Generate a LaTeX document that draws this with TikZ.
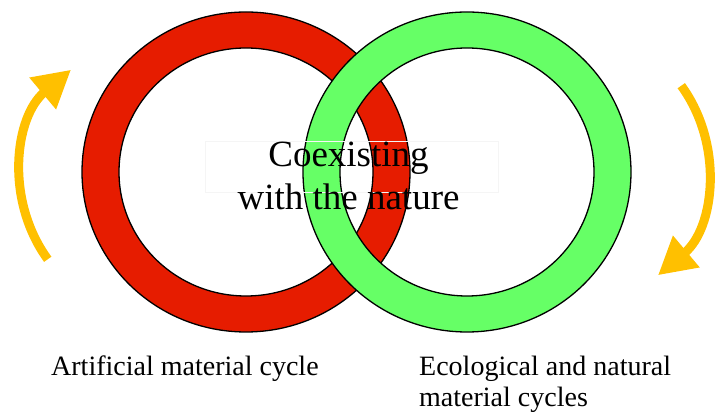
\documentclass[tikz,border=0pt]{standalone}
\usepackage{fontspec}
\setmainfont{Liberation Serif}
\usetikzlibrary{arrows.meta,calc}
\definecolor{ringred}{RGB}{230,28,0}
\definecolor{ringgreen}{RGB}{102,255,102}
\definecolor{flowgold}{RGB}{255,192,0}
\begin{document}
\begin{tikzpicture}[x=1pt,y=1pt,
  ring/.style={draw=black, line width=1.3pt, even odd rule},
  flow/.style={draw=flowgold, line width=9pt, -{Triangle[width=39pt,length=37pt,fill=flowgold]}},
  caption/.style={font=\fontsize{28}{31}\selectfont, inner sep=0pt, align=left, anchor=base west},
  motto/.style={font=\fontsize{37}{43}\selectfont, inner sep=0pt, align=center, anchor=base},
]
\useasboundingbox (0,0) rectangle (716,412);

% ring centres
\coordinate (artificial) at (246,240);
\coordinate (ecological) at (467,240);

% artificial cycle (red) lies under the ecological one (green)
\path[ring, fill=ringred] (artificial) ellipse [x radius=164, y radius=160]
                          (artificial) ellipse [x radius=127, y radius=124];
\path[ring, fill=ringgreen] (ecological) ellipse [x radius=164, y radius=160]
                            (ecological) ellipse [x radius=127, y radius=124];

% central caption with its faint frame (base anchor sits on the last line)
\node[draw=black!4, line width=0.8pt, minimum width=293pt, minimum height=51pt,
      inner sep=0pt] (mottobox) at (351.5,245.5) {};
\node[motto] (mottotext) at (348.5,202) {Coexisting\\with the nature};

% rotation arrows
\coordinate (leftpivot) at (161,235);
\coordinate (rightpivot) at (568,244);
\coordinate (leftstart) at ($(leftpivot)+(216:140)$);
\coordinate (rightstart) at ($(rightpivot)+(36:140)$);
\draw[flow] (leftstart) arc[start angle=216, end angle=130, radius=140];
\draw[flow] (rightstart) arc[start angle=36, end angle=-50, radius=140];

% captions under the rings
\node[caption] (artlabel) at (51,36) {Artificial material cycle};
\node[caption] (ecolabel) at (419,5) {Ecological and natural\\material cycles};
\end{tikzpicture}
\end{document}
